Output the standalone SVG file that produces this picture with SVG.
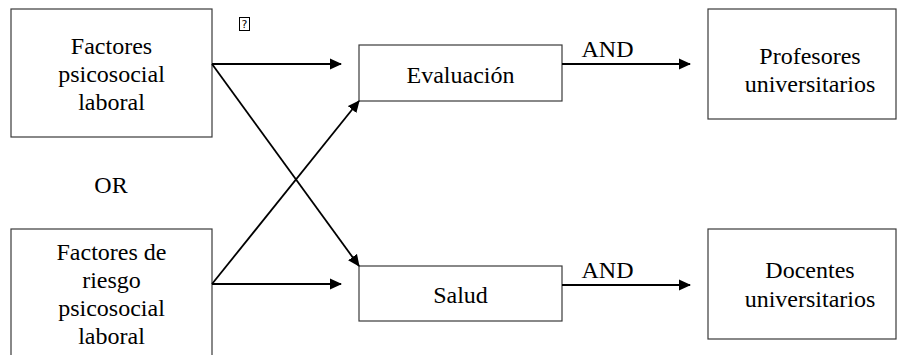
<svg xmlns="http://www.w3.org/2000/svg" width="897" height="355" viewBox="0 0 897 355">
<style>
.box{fill:#fff;stroke:#3a3a3a;stroke-width:1.2}
text.t{font-family:'Liberation Serif','Times New Roman','DejaVu Serif',serif;font-size:24px;fill:#000;text-anchor:middle}
.c{stroke:#000;stroke-width:1.8;fill:none}
</style>
<defs>
<marker id="ah" markerWidth="12" markerHeight="12" viewBox="0 0 12 12" refX="11" refY="6" orient="auto" markerUnits="userSpaceOnUse">
<path d="M0,0.5 L12,6 L0,11.5 Z" fill="#000"/>
</marker>
</defs>
<rect width="897" height="355" fill="#fff"/>
<g id="n-fpl">
<rect class="box" x="11" y="9" width="201" height="128"/>
<text class="t" font-family="Liberation Serif, serif" x="111.5" y="54">Factores</text>
<text class="t" font-family="Liberation Serif, serif" x="111.5" y="82">psicosocial</text>
<text class="t" font-family="Liberation Serif, serif" x="111.5" y="110">laboral</text>
</g>
<g id="n-frpl">
<rect class="box" x="11" y="229" width="201" height="140"/>
<text class="t" x="111.5" y="260">Factores de</text>
<text class="t" x="111.5" y="288">riesgo</text>
<text class="t" x="111.5" y="316">psicosocial</text>
<text class="t" x="111.5" y="344">laboral</text>
</g>
<g id="n-or"><text class="t" x="111" y="193">OR</text></g>
<g id="n-glyph">
<rect x="239.5" y="17.5" width="10" height="13" fill="none" stroke="#000" stroke-width="1"/>
<text x="244.5" y="28" font-family="'DejaVu Sans',sans-serif" font-size="11" text-anchor="middle">?</text>
</g>
<g id="n-eval">
<rect class="box" x="359" y="45" width="203" height="56"/>
<text class="t" x="460.5" y="83">Evaluación</text>
</g>
<g id="n-salud">
<rect class="box" x="359" y="266" width="203" height="55"/>
<text class="t" x="460.5" y="303">Salud</text>
</g>
<g id="n-prof">
<rect class="box" x="708" y="9" width="188" height="110"/>
<text class="t" x="810" y="64">Profesores</text>
<text class="t" x="810" y="92">universitarios</text>
</g>
<g id="n-doc">
<rect class="box" x="708" y="229" width="188" height="110"/>
<text class="t" x="810" y="278">Docentes</text>
<text class="t" x="810" y="307">universitarios</text>
</g>
<g id="connectors">
<line class="c" x1="212" y1="64" x2="341" y2="64" marker-end="url(#ah)"/>
<line class="c" x1="212" y1="64" x2="359" y2="266" marker-end="url(#ah)"/>
<line class="c" x1="212" y1="284" x2="341" y2="284" marker-end="url(#ah)"/>
<line class="c" x1="212" y1="284" x2="359" y2="101" marker-end="url(#ah)"/>
<line class="c" x1="562" y1="64" x2="690" y2="64" marker-end="url(#ah)"/>
<line class="c" x1="562" y1="285" x2="690" y2="285" marker-end="url(#ah)"/>
<text class="t" x="607.5" y="57">AND</text>
<text class="t" x="607.5" y="278">AND</text>
</g>
</svg>
